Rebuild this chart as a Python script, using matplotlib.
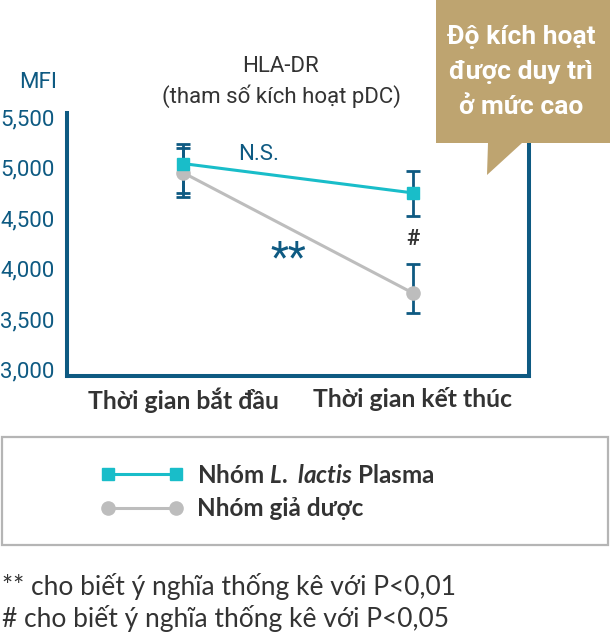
import matplotlib
matplotlib.use("Agg")
import matplotlib.pyplot as plt
from matplotlib.patches import Polygon, Rectangle

# du lieu doc tu hinh
moc_thoi_gian = ["Thời gian bắt đầu", "Thời gian kết thúc"]
nhom_lactis = [5040, 4750]
lactis_tren = [5233, 4966]
lactis_duoi = [4749, 4522]
nhom_gia_duoc = [4950, 3760]
gia_duoc_tren = [5194, 4047]
gia_duoc_duoi = [4709, 3563]
y_ticks = [3000, 3500, 4000, 4500, 5000, 5500]

W, H = 610, 638
TEAL = "#19BDC9"
GREY = "#BDBDBD"
NAVY = "#0E5A82"
TEXT = "#333333"
GOLD = "#BEA470"

plt.rcParams["mathtext.fontset"] = "custom"
plt.rcParams["mathtext.it"] = "Lato:italic:bold"
plt.rcParams["mathtext.rm"] = "Lato:bold"

def fx(px):
    return px / W

def fy(py):
    return 1 - py / H

fig = plt.figure(figsize=(W / 100, H / 100), dpi=100)
ax = fig.add_axes([fx(67), fy(376), fx(529) - fx(67), fy(113) - fy(376)])

x = list(range(len(moc_thoi_gian)))

# error bars (ve truoc, nam duoi marker)
ax.errorbar(x, nhom_lactis,
            yerr=[[m - d for m, d in zip(nhom_lactis, lactis_duoi)],
                  [t - m for m, t in zip(nhom_lactis, lactis_tren)]],
            fmt="none", ecolor=NAVY, elinewidth=2, capsize=4.7, capthick=2, zorder=2)
ax.errorbar(x, nhom_gia_duoc,
            yerr=[[m - d for m, d in zip(nhom_gia_duoc, gia_duoc_duoi)],
                  [t - m for m, t in zip(nhom_gia_duoc, gia_duoc_tren)]],
            fmt="none", ecolor=NAVY, elinewidth=2, capsize=4.7, capthick=2, zorder=2)

l1, = ax.plot(x, nhom_lactis, color=TEAL, lw=2.2, marker="s", ms=8.5, zorder=4,
              label=r"Nhóm $\mathit{L.\ lactis}$ Plasma")
l2, = ax.plot(x, nhom_gia_duoc, color=GREY, lw=2.2, marker="o", ms=9.5, zorder=3,
              label="Nhóm giả dược")

ax.set_xlim(-0.505, 1.505)
ax.set_ylim(2940, 5540)
ax.set_yticks(y_ticks)
ax.set_yticklabels(["{:,}".format(v) for v in y_ticks], fontfamily="Roboto",
                   fontsize=16, color=NAVY)
ax.set_xticks(x)
ax.set_xticklabels(moc_thoi_gian, fontfamily="Lato", fontweight="bold",
                   fontsize=17.8, color=TEXT)
ax.tick_params(axis="y", length=0, pad=9)
ax.tick_params(axis="x", length=0, pad=8)
for s in ["left", "bottom", "right"]:
    ax.spines[s].set_color(NAVY)
    ax.spines[s].set_linewidth(2.9)
ax.spines["top"].set_visible(False)

# chu thich trong bieu do
ax.text(0.33, 5130, "N.S.", fontfamily="Roboto", fontsize=16, color=NAVY,
        ha="center", va="center")
ax.text(0.46, 4100, "**", fontfamily="Roboto", fontsize=30, color=NAVY,
        ha="center", va="center")
ax.text(1, 4290, "#", fontfamily="Roboto", fontsize=16, fontweight="bold",
        color=TEXT, ha="center", va="center")

fig.text(fx(38), fy(82), "MFI", fontfamily="Roboto", fontsize=16, color=NAVY,
         ha="center", va="center")
fig.text(fx(281), fy(67), "HLA-DR", fontfamily="Roboto", fontsize=16, color=TEXT,
         ha="center", va="center")
fig.text(fx(281), fy(96), "(tham số kích hoạt pDC)", fontfamily="Roboto",
         fontsize=16, color=TEXT, ha="center", va="center")

# callout
bubble = Polygon([(fx(436), fy(0)), (fx(610), fy(0)), (fx(610), fy(143)),
                  (fx(522), fy(143)), (fx(487), fy(175)), (fx(488), fy(143)),
                  (fx(436), fy(143))], closed=True, facecolor=GOLD,
                 edgecolor="none", transform=fig.transFigure, zorder=10)
fig.add_artist(bubble)
for txt, py in zip(["Độ kích hoạt", "được duy trì", "ở mức cao"], [37, 72, 107]):
    fig.text(fx(521), fy(py), txt, fontfamily="Roboto", fontweight="bold",
             fontsize=19, color="white", ha="center", va="center", zorder=11)

# khung chu giai
khung = Rectangle((fx(2), fy(545)), fx(608) - fx(2), fy(437) - fy(545),
                  transform=fig.transFigure, fill=False, edgecolor="#B5B5B5",
                  lw=1.6)
fig.add_artist(khung)
leg = fig.legend(handles=[l1, l2], loc="center left",
                 bbox_to_anchor=(fx(101), fy(492)), frameon=False,
                 numpoints=2, handlelength=3.4, handletextpad=0.56,
                 labelspacing=0.45, borderpad=0, borderaxespad=0,
                 prop={"family": "Lato", "weight": "bold", "size": 17.5})
for t in leg.get_texts():
    t.set_color(TEXT)

fig.text(fx(2), fy(587), "** cho biết ý nghĩa thống kê với P<0,01",
         fontfamily="Lato", fontsize=19, color=TEXT, ha="left", va="center")
fig.text(fx(2), fy(618), "# cho biết ý nghĩa thống kê với P<0,05",
         fontfamily="Lato", fontsize=19, color=TEXT, ha="left", va="center")

fig.savefig("out.png", dpi=100)
